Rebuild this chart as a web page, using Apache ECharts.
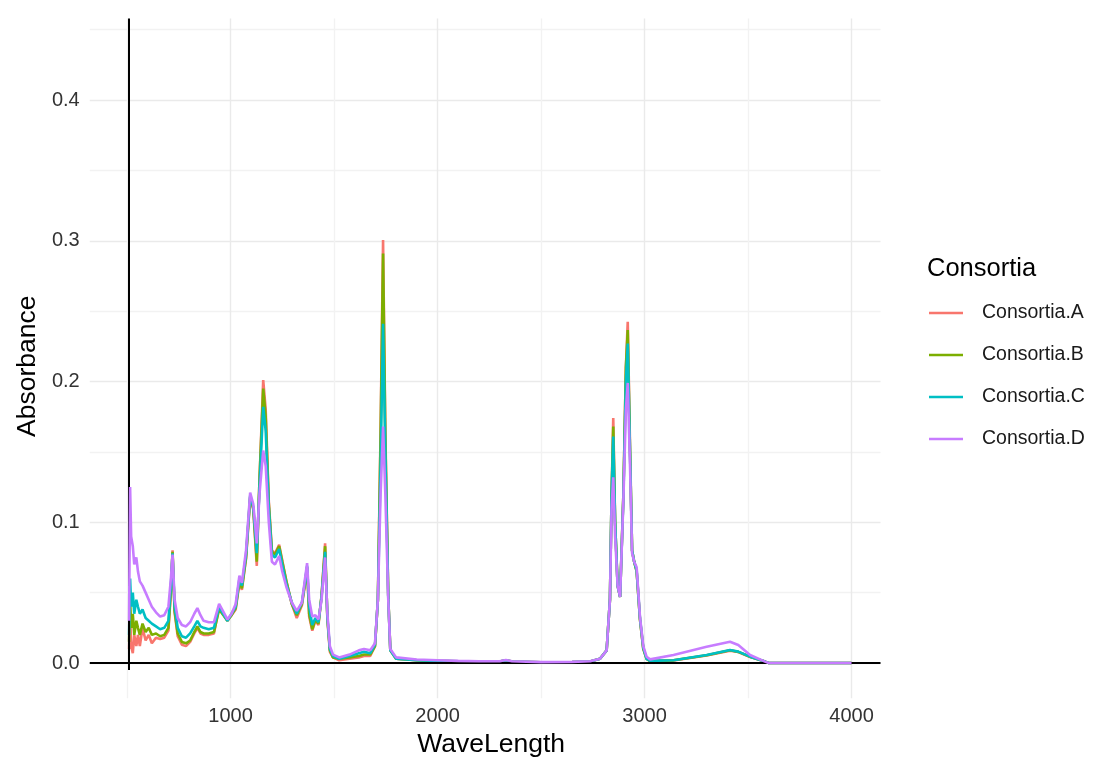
<!DOCTYPE html>
<html><head><meta charset="utf-8">
<script src="https://cdn.jsdelivr.net/npm/echarts@6/dist/echarts.min.js"></script>
<style>html,body{margin:0;padding:0;background:#fff}#c{width:1098px;height:758px}</style>
</head><body><div id="c"></div>
<script>
// Wavenumber (x) values shared by all series
const wavenumbers = [
  510,515,520,528,535,545,553,562,575,590,605,620,640,660,680,700,
  712,720,730,745,765,785,805,825,840,855,870,895,920,945,960,985,1005,
  1025,1043,1055,1075,1095,1110,1127,1140,1158,1170,1185,1200,1215,1235,1250,1270,1296,1320,1345,1360,1370,1380,1395,1410,1425,1440,1457,1468,
  1480,1495,1525,1575,1620,1645,1675,1698,1712,1725,1737,1748,1762,1772,1800,
  1900,2000,2100,2200,2300,2330,2360,2500,2650,2737,2785,2817,
  2833,2841,2849,2858,2870,2882,2898,2910,2919,2930,2940,2950,2962,2978,2994,3010,
  3027,3140,3300,3413,3453,3510,3582,3600,3800,4000
];
const consortiaA = [
  0.01,0.035,0.012,0.007,0.02,0.012,0.02,0.012,0.025,0.016,0.02,0.014,0.018,0.017,0.018,0.023,
  0.05,0.08,0.036,0.019,0.013,0.012,0.015,0.021,0.025,0.021,0.02,0.02,0.021,0.04,0.036,0.03,0.034,
  0.038,0.057,0.052,0.074,0.117,0.109,0.069,0.13,0.201,0.18,0.115,0.08,0.078,0.084,0.073,0.058,0.042,0.032,0.041,0.056,0.068,0.033,0.023,0.03,0.027,0.048,0.085,0.031,
  0.008,0.004,0.002,0.003,0.004,0.005,0.005,0.012,0.045,0.165,0.3005,0.165,0.048,0.009,0.003,
  0.002,0.0015,0.0011,0.001,0.001,0.0019,0.001,0.0005,0.0007,0.001,0.003,0.009,
  0.045,0.12,0.174,0.1,0.055,0.047,0.12,0.21,0.2425,0.155,0.08,0.072,0.065,0.031,0.01,0.003,
  0.0013,0.0018,0.0053,0.0088,0.0078,0.0043,0.001,0,0,0
];
const consortiaB = [
  0.015,0.045,0.025,0.035,0.02,0.03,0.025,0.02,0.028,0.022,0.025,0.02,0.021,0.019,0.02,0.025,
  0.052,0.079,0.037,0.021,0.015,0.014,0.016,0.022,0.026,0.022,0.021,0.021,0.022,0.038,0.035,0.03,0.034,
  0.039,0.058,0.053,0.075,0.118,0.11,0.072,0.13,0.195,0.175,0.113,0.079,0.077,0.083,0.072,0.058,0.042,0.034,0.042,0.057,0.068,0.035,0.024,0.031,0.028,0.048,0.083,0.032,
  0.009,0.004,0.003,0.004,0.005,0.006,0.006,0.012,0.045,0.16,0.291,0.16,0.048,0.009,0.003,
  0.002,0.0015,0.0012,0.001,0.001,0.002,0.001,0.0005,0.0007,0.001,0.003,0.009,
  0.045,0.12,0.168,0.1,0.055,0.047,0.12,0.21,0.2366,0.15,0.08,0.072,0.065,0.031,0.01,0.003,
  0.0014,0.0019,0.0055,0.009,0.0079,0.0044,0.001,0,0,0
];
const consortiaC = [
  0.02,0.06,0.04,0.05,0.035,0.045,0.04,0.035,0.038,0.032,0.03,0.028,0.026,0.024,0.025,0.03,
  0.055,0.078,0.04,0.025,0.019,0.018,0.021,0.026,0.03,0.026,0.025,0.024,0.025,0.04,0.036,0.03,0.035,
  0.04,0.06,0.055,0.077,0.119,0.111,0.078,0.125,0.182,0.165,0.11,0.077,0.075,0.081,0.07,0.056,0.043,0.035,0.043,0.058,0.069,0.04,0.027,0.032,0.029,0.047,0.079,0.033,
  0.01,0.005,0.003,0.005,0.007,0.008,0.007,0.013,0.045,0.14,0.241,0.15,0.047,0.009,0.003,
  0.002,0.0015,0.0012,0.001,0.001,0.002,0.001,0.0005,0.0007,0.001,0.003,0.009,
  0.045,0.12,0.161,0.1,0.055,0.047,0.118,0.2,0.227,0.15,0.08,0.072,0.066,0.032,0.011,0.003,
  0.0015,0.002,0.0057,0.0092,0.0081,0.0045,0.001,0,0,0
];
const consortiaD = [
  0.03,0.125,0.09,0.083,0.07,0.075,0.065,0.058,0.055,0.05,0.045,0.04,0.036,0.033,0.034,0.04,
  0.06,0.077,0.045,0.032,0.027,0.026,0.029,0.035,0.039,0.034,0.03,0.029,0.029,0.042,0.038,0.031,0.035,
  0.042,0.062,0.057,0.08,0.121,0.113,0.085,0.12,0.151,0.14,0.1,0.072,0.07,0.076,0.065,0.054,0.043,0.037,0.043,0.06,0.071,0.045,0.033,0.034,0.031,0.045,0.075,0.035,
  0.012,0.006,0.004,0.006,0.009,0.01,0.009,0.014,0.045,0.12,0.168,0.12,0.045,0.01,0.004,
  0.0025,0.002,0.0015,0.0012,0.0012,0.0022,0.0012,0.0006,0.0008,0.0012,0.003,0.009,
  0.045,0.11,0.132,0.09,0.055,0.047,0.116,0.18,0.199,0.14,0.078,0.072,0.068,0.033,0.012,0.0045,
  0.0026,0.0057,0.0116,0.0151,0.0128,0.0057,0.001,0,0,0
];
const seriesNames = ['Consortia.A','Consortia.B','Consortia.C','Consortia.D'];
const seriesValues = [consortiaA, consortiaB, consortiaC, consortiaD];
const seriesColors = ['#F8766D','#7CAE00','#00BFC4','#C77CFF'];
const xTickLabels = [1000,2000,3000,4000];
const yTickLabels = [0.0,0.1,0.2,0.3,0.4];
const referenceLineX = 508;

const FONT = '"Liberation Sans", Arial, sans-serif';
const T = 'rgba(0,0,0,0)';
const MAJOR = '#EAEAEA', MINOR = '#F2F2F2';

// x split-line colours: ticks every 20 from 320; major at multiples of 1000, minor at 500 offsets
const xGridColors = [];
for (let i = 0; i < 50; i++) xGridColors.push(i === 34 ? MAJOR : (i === 9 ? MINOR : T));
// y split-line colours: ticks every 0.005 from -0.025; major at 0.1 multiples, minor at 0.05 offsets
const yGridColors = [];
for (let i = 0; i < 20; i++) yGridColors.push(i === 5 ? MAJOR : (i === 15 ? MINOR : T));

const series = seriesNames.map((name, k) => ({
  name, type: 'line', showSymbol: false, symbol: 'none', smooth: false,
  color: seriesColors[k],
  lineStyle: { width: 2.6, color: seriesColors[k] },
  data: wavenumbers.map((w, i) => [w, seriesValues[k][i]]),
  z: 2 + k, silent: true
}));
series.push({
  type: 'line', data: [], z: 20, silent: true,
  markLine: {
    silent: true, symbol: ['none','none'], animation: false,
    label: { show: false },
    lineStyle: { color: '#000', width: 2, type: 'solid' },
    data: [
      { yAxis: 0 },
      [{ coord: [referenceLineX, -0.005] }, { coord: [referenceLineX, 0.458] }]
    ]
  }
});

const chart = echarts.init(document.getElementById('c'), null, { renderer: 'canvas' });
chart.setOption({
  animation: false,
  backgroundColor: '#fff',
  textStyle: { fontFamily: FONT },
  title: {
    text: 'Consortia', left: 927, top: 256, padding: 0,
    textStyle: { fontSize: 25.5, fontWeight: 'normal', color: '#000', fontFamily: FONT }
  },
  legend: {
    data: seriesNames, orient: 'vertical', left: 929, top: 303, padding: 0,
    icon: 'rect', itemWidth: 34, itemHeight: 2.5, itemGap: 22,
    textStyle: { fontSize: 19.5, color: '#1a1a1a', fontFamily: FONT, padding: [0,0,0,14] }
  },
  grid: { left: 89.74, top: 18.4, width: 790.76, height: 679.8, containLabel: false, outerBoundsMode: 'none' },
  xAxis: {
    type: 'value', min: 320, max: 4140, interval: 20,
    name: 'WaveLength', nameLocation: 'middle', nameGap: 31,
    nameTextStyle: { fontSize: 26.5, color: '#000', fontFamily: FONT, padding: [0,0,0,12] },
    axisLine: { show: false }, axisTick: { show: false },
    axisLabel: {
      fontSize: 20, color: '#333', margin: 8, fontFamily: FONT,
      formatter: v => xTickLabels.includes(Math.round(v)) ? String(Math.round(v)) : ''
    },
    splitLine: { show: true, lineStyle: { color: xGridColors, width: 1.4 } }
  },
  yAxis: {
    type: 'value', min: -0.025, max: 0.458, interval: 0.005,
    name: 'Absorbance', nameLocation: 'middle', nameGap: 46,
    nameTextStyle: { fontSize: 26.5, color: '#000', fontFamily: FONT, padding: [0,16,0,0] },
    axisLine: { show: false }, axisTick: { show: false },
    axisLabel: {
      fontSize: 20, color: '#333', margin: 10, fontFamily: FONT,
      formatter: v => {
        const r = Math.round(v * 10);
        if (Math.abs(v * 10 - r) < 1e-6) {
          const lab = yTickLabels.find(t => Math.abs(t - r / 10) < 1e-9);
          if (lab !== undefined) return lab.toFixed(1);
        }
        return '';
      }
    },
    splitLine: { show: true, lineStyle: { color: yGridColors, width: 1.4 } }
  },
  series
});
</script>
</body></html>
